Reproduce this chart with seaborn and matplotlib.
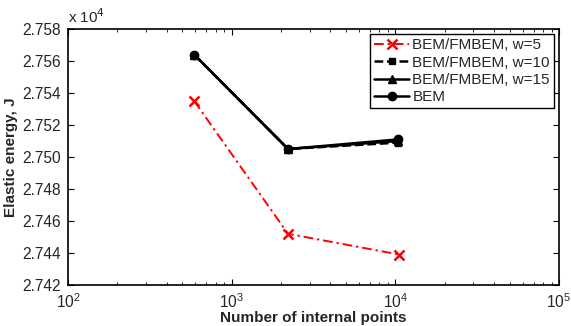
import matplotlib
matplotlib.use("Agg")
import matplotlib.pyplot as plt
import matplotlib.ticker as mticker
import seaborn as sns
import pandas as pd

sns.set_style("ticks")
plt.rcParams['font.family'] = ['Liberation Sans', 'DejaVu Sans']

internal_points = [590, 2210, 10400]
internal_points_w5 = [590, 2210, 10600]
w5 = [27535, 27452, 27439]
w10 = [27564, 27505, 27509]
w15 = [27564, 27505, 27510]
bem = [27564, 27505, 27511]
labels = ["BEM/FMBEM, w=5", "BEM/FMBEM, w=10", "BEM/FMBEM, w=15", "BEM"]

fig = plt.figure(figsize=(5.71, 3.26), dpi=100)
ax = fig.add_axes([68/571, 1-285/326, (559-68)/571, (285-29)/326])

series = [
    (internal_points_w5, w5, labels[0], "red", "x", (0, (5, 2, 1.2, 2)), 1.4, 6.5),
    (internal_points, w10, labels[1], "black", "s", (0, (3.5, 1.5)), 1.8, 5),
    (internal_points, w15, labels[2], "black", "^", "-", 1.8, 6),
    (internal_points, bem, labels[3], "black", "o", "-", 1.8, 6),
]
for xs, ys, lab, col, mk, ls, lw, ms in series:
    df = pd.DataFrame({"x": xs, "y": ys})
    sns.lineplot(data=df, x="x", y="y", ax=ax, color=col, marker=mk,
                 linestyle=ls, linewidth=lw, markersize=ms,
                 markeredgewidth=1.8 if mk == "x" else 1,
                 markeredgecolor=col, label=lab)

ax.set_xscale("log")
ax.set_xlim(1e2, 1e5)
ax.set_ylim(27420, 27580)
ax.set_yticks([27420 + 20 * i for i in range(9)])
ax.yaxis.set_major_formatter(mticker.FuncFormatter(lambda v, p: f"{v/1e4:.3f}"))
ax.xaxis.set_major_locator(mticker.LogLocator(base=10, numticks=10))
ax.xaxis.set_minor_locator(mticker.LogLocator(base=10, subs=range(2, 10), numticks=20))
ax.xaxis.set_minor_formatter(mticker.NullFormatter())
ax.tick_params(which="both", direction="in", top=True, right=True, labelsize=11.2, color="black")
ax.tick_params(which="major", length=4, pad=5)
ax.tick_params(which="minor", length=2.2)
for s in ax.spines.values():
    s.set_linewidth(1.2)
    s.set_color("black")
ax.set_xlabel("Number of internal points", fontsize=11, fontweight="bold", labelpad=0)
ax.set_ylabel("Elastic energy, J", fontsize=11, fontweight="bold", labelpad=3)
ax.text(0.0, 1.01, r"x 10$^4$", transform=ax.transAxes, fontsize=11, va="bottom", ha="left")

leg = ax.legend(loc="upper right", bbox_to_anchor=(1.0, 1.0), fontsize=11,
                frameon=True, fancybox=False, edgecolor="black", framealpha=1,
                handlelength=2.3, handletextpad=0.2, borderpad=0.25, labelspacing=0.22,
                borderaxespad=0.35)
leg.get_frame().set_linewidth(1.0)

fig.savefig("out.png", dpi=100)
